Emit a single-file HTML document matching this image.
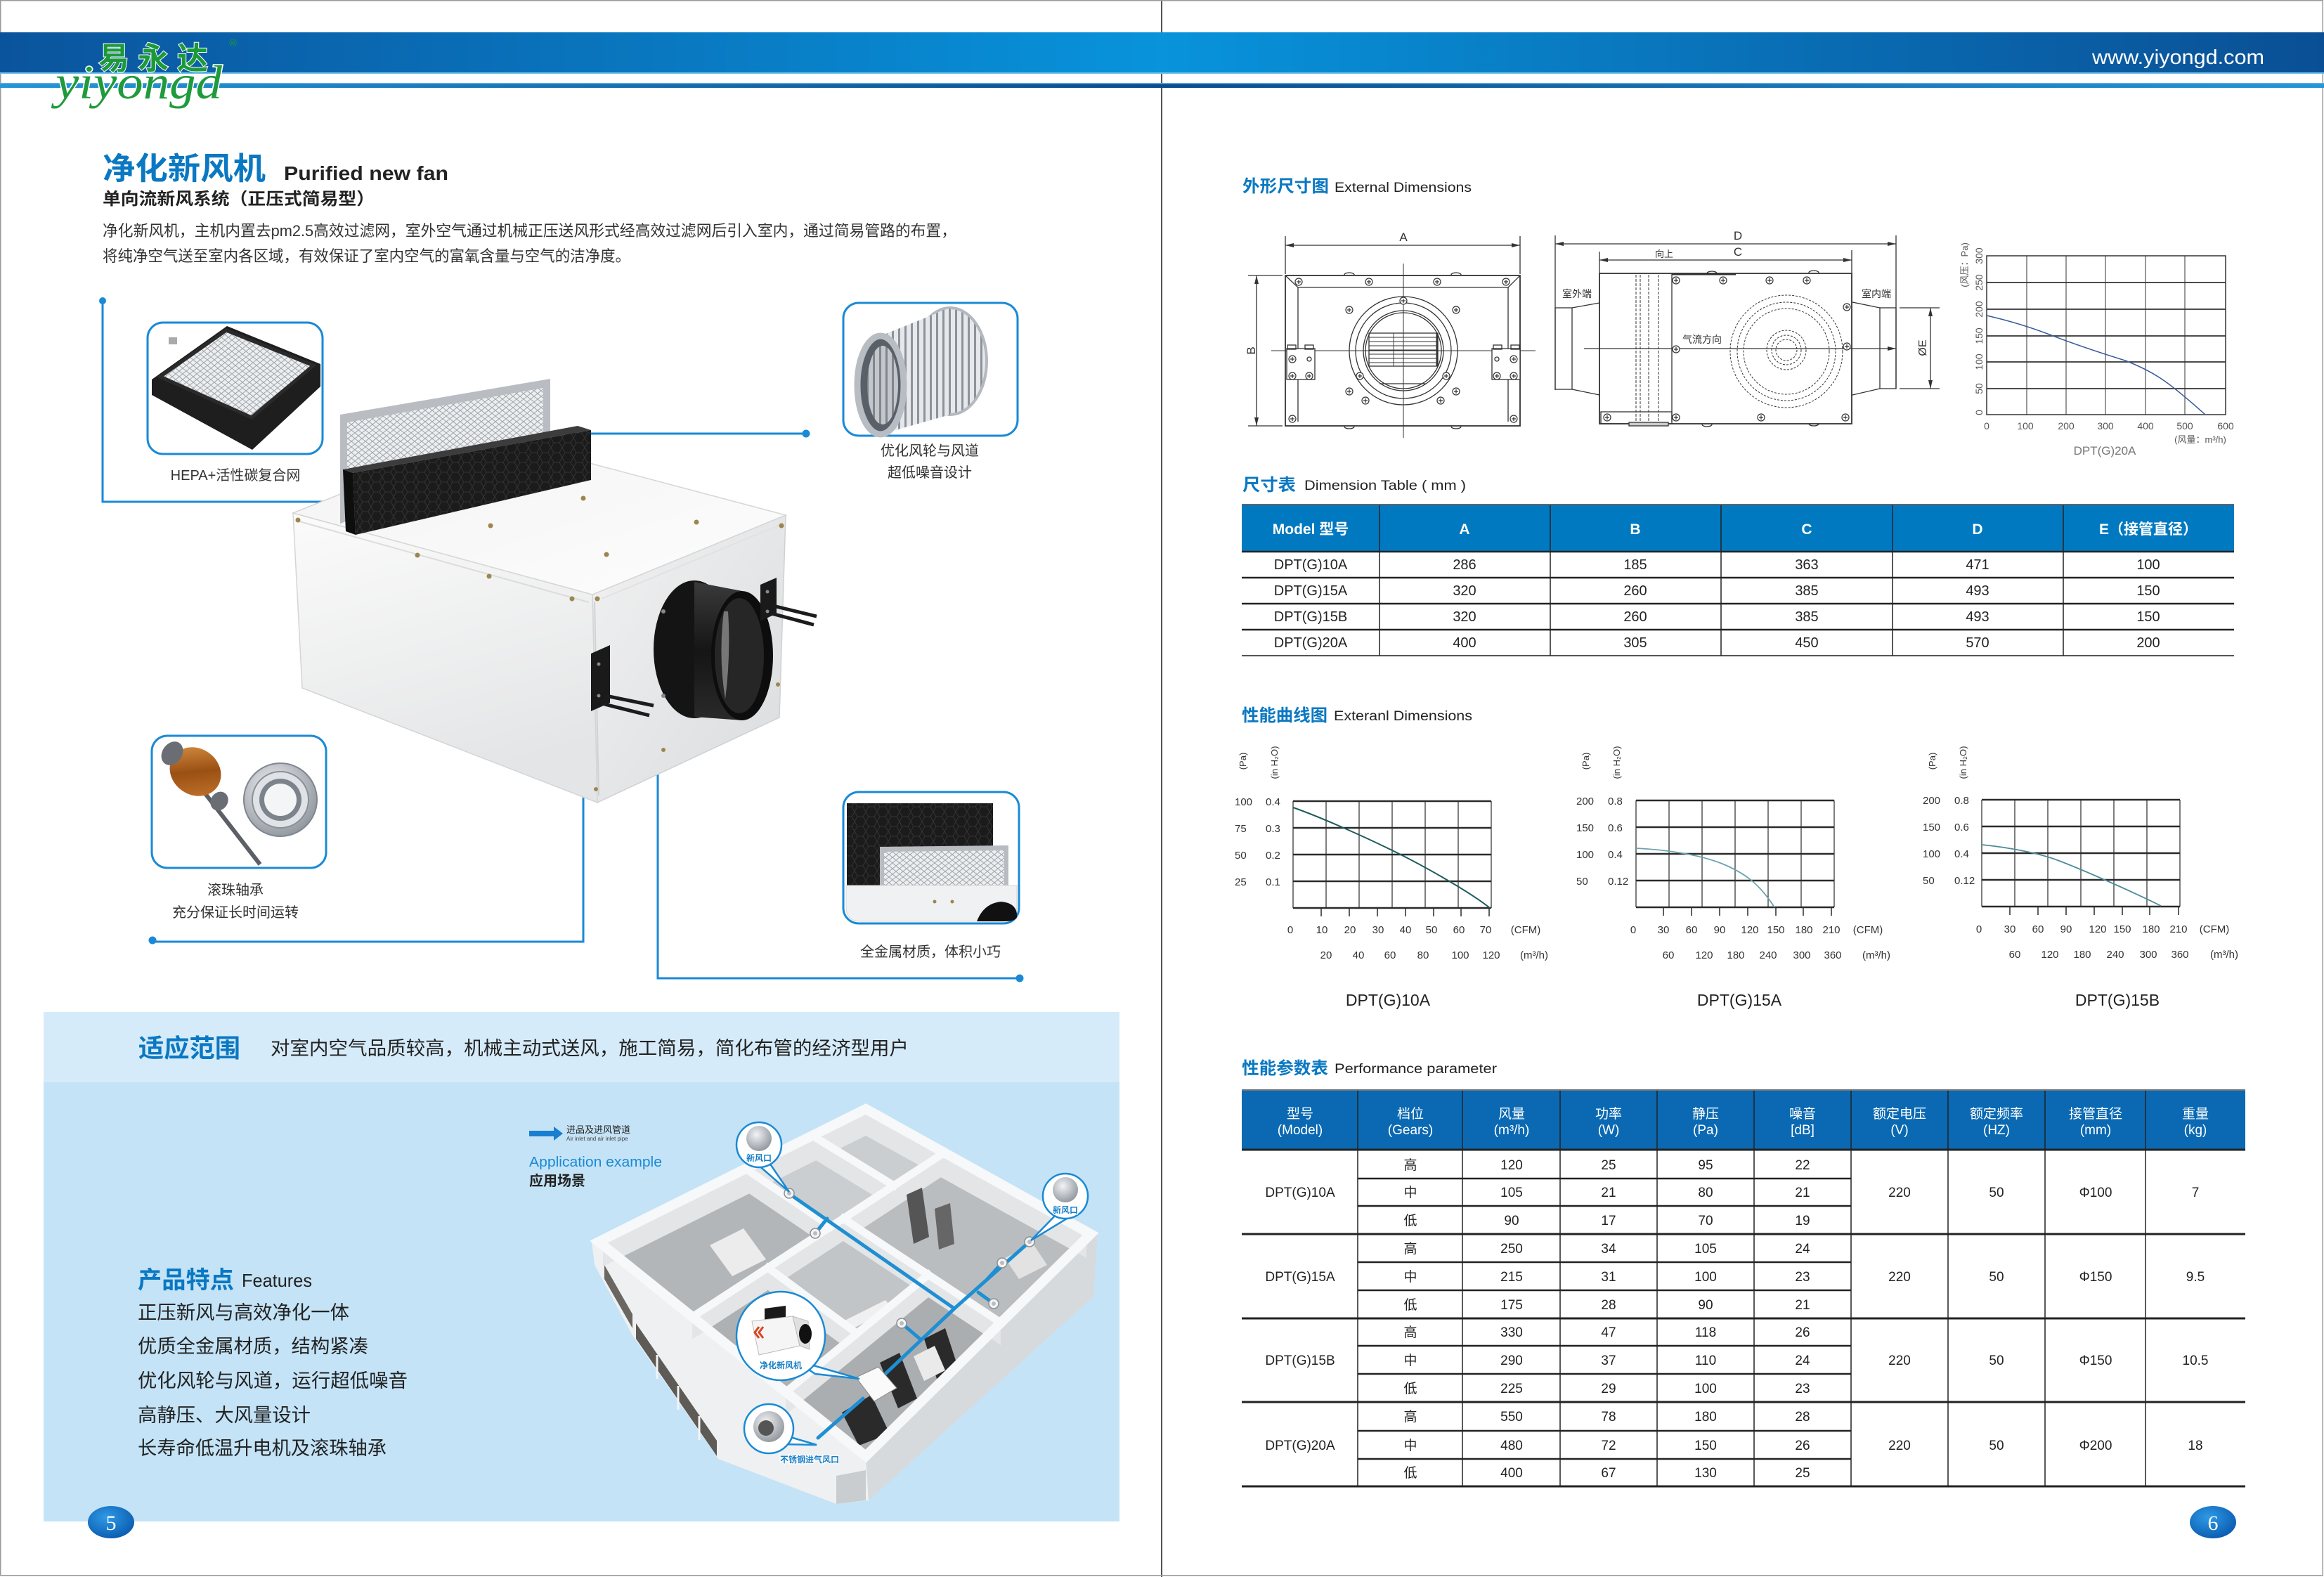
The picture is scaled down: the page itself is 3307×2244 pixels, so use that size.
<!DOCTYPE html>
<html><head><meta charset="utf-8">
<style>
html,body{margin:0;padding:0;background:#fff;}
body{width:3307px;height:2244px;overflow:hidden;}
svg{display:block;}
text{font-family:"Liberation Sans","Noto Sans CJK SC",sans-serif;}
.b{font-weight:bold;}
.bl{fill:#0a78c2;font-weight:bold;}
.dk{fill:#222;}
.m{text-anchor:middle;}
.lab{font-size:20px;fill:#333;text-anchor:middle;}
.th{font-size:21px;fill:#fff;font-weight:bold;text-anchor:middle;}
.td{font-size:20px;fill:#222;text-anchor:middle;}
.ph{font-size:19px;fill:#fff;text-anchor:middle;}
.pd{font-size:19px;fill:#222;text-anchor:middle;}
.ax{font-size:15px;fill:#333;}
.axm{font-size:15px;fill:#333;text-anchor:middle;}
.dr{stroke:#333;fill:none;stroke-width:1.3;}
.bub{font-size:12px;font-weight:bold;fill:#1a7fc8;stroke:#fff;stroke-width:2.5px;paint-order:stroke;text-anchor:middle;}
</style></head><body>
<svg width="3307" height="2244" viewBox="0 0 3307 2244" xmlns="http://www.w3.org/2000/svg">
<defs>
 <linearGradient id="band" x1="0" y1="0" x2="3307" y2="0" gradientUnits="userSpaceOnUse">
  <stop offset="0" stop-color="#0a549d"/><stop offset="0.5" stop-color="#0893db"/><stop offset="1" stop-color="#0a4f95"/>
 </linearGradient>
 <linearGradient id="stripe" x1="0" y1="0" x2="3307" y2="0" gradientUnits="userSpaceOnUse">
  <stop offset="0" stop-color="#2296d8"/><stop offset="0.5" stop-color="#0a4d8e"/><stop offset="1" stop-color="#2296d8"/>
 </linearGradient>
 <linearGradient id="lf" x1="0" y1="0" x2="0.3" y2="1">
  <stop offset="0" stop-color="#fbfbfb"/><stop offset="1" stop-color="#e4e5e6"/>
 </linearGradient>
 <linearGradient id="rf" x1="0" y1="0" x2="1" y2="1">
  <stop offset="0" stop-color="#f1f1f2"/><stop offset="1" stop-color="#dadcdd"/>
 </linearGradient>
 <linearGradient id="tf" x1="0" y1="0" x2="1" y2="1">
  <stop offset="0" stop-color="#f3f3f3"/><stop offset="1" stop-color="#fdfdfd"/>
 </linearGradient>
 <linearGradient id="duct" x1="0" y1="0" x2="0" y2="1">
  <stop offset="0" stop-color="#3a3a3a"/><stop offset="0.5" stop-color="#151515"/><stop offset="1" stop-color="#2a2a2a"/>
 </linearGradient>
 <radialGradient id="pn" cx="0.4" cy="0.35" r="0.7">
  <stop offset="0" stop-color="#2f9ae6"/><stop offset="1" stop-color="#0a5aae"/>
 </radialGradient>
 <radialGradient id="silver" cx="0.4" cy="0.35" r="0.7">
  <stop offset="0" stop-color="#f2f3f5"/><stop offset="1" stop-color="#8e949c"/>
 </radialGradient>
 <linearGradient id="copper" x1="0" y1="0" x2="1" y2="1">
  <stop offset="0" stop-color="#e09a4a"/><stop offset="0.5" stop-color="#9a5014"/><stop offset="1" stop-color="#c87a30"/>
 </linearGradient>
 <pattern id="hex" width="16" height="14" patternUnits="userSpaceOnUse">
  <rect width="16" height="14" fill="#1b1b1b"/>
  <path d="M4,0 L12,0 L16,7 L12,14 L4,14 L0,7 Z" fill="none" stroke="#333" stroke-width="1"/>
 </pattern>
 <pattern id="mesh" width="10" height="8" patternUnits="userSpaceOnUse">
  <rect width="10" height="8" fill="#eceef0"/>
  <path d="M0,4 L5,0 L10,4 L5,8 Z" fill="none" stroke="#9ea4aa" stroke-width="1"/>
 </pattern>
 <pattern id="blades" width="9" height="10" patternUnits="userSpaceOnUse">
  <rect width="9" height="10" fill="#e6e8eb"/>
  <rect width="3" height="10" fill="#8d939b"/>
 </pattern>
 <marker id="ar" markerWidth="12" markerHeight="6" refX="12" refY="3" orient="auto-start-reverse" markerUnits="userSpaceOnUse">
  <path d="M0,0 L12,3 L0,6 Z" fill="#333"/>
 </marker>
 <g id="sc"><circle r="5" fill="#fff" stroke="#333" stroke-width="1.2"/><path d="M-3,0H3M0,-3V3" stroke="#333" stroke-width="1.2"/></g>
 <g id="df"><circle r="7" fill="#f4f4f4" stroke="#8a9096" stroke-width="1.5"/><circle r="3" fill="#b8bcc0"/></g>
</defs>

<!-- page frame -->
<rect x="0" y="0" width="3307" height="2244" fill="#fff"/>
<line x1="1653" y1="0" x2="1653" y2="2244" stroke="#2a2a2a" stroke-width="1.6"/>
<rect x="0.75" y="0.75" width="3304.5" height="2241" fill="none" stroke="#9a9a9a" stroke-width="1.5"/>

<!-- header band -->
<rect x="0" y="46" width="3307" height="58" fill="url(#band)"/>
<rect x="0" y="103" width="3307" height="2" fill="#6cc0ec"/>
<rect x="0" y="118" width="3307" height="1.5" fill="#63ace0"/>
<rect x="0" y="119.5" width="3307" height="5.5" fill="url(#stripe)"/>

<!-- logo -->
<text x="140" y="98" font-size="44" class="b" fill="#1c9a3a" stroke="#fff" stroke-width="2" paint-order="stroke" letter-spacing="12">易永达</text>
<text x="79" y="140" font-size="68" fill="#1f9a3c" stroke="#fff" stroke-width="3" paint-order="stroke" textLength="237" lengthAdjust="spacingAndGlyphs" style="font-family:'Liberation Serif',serif;font-style:italic;">yiyongd</text>
<text x="326" y="66" font-size="15" fill="#1c9a3a">®</text>
<text x="2977" y="91" font-size="29" fill="#fff" textLength="245" lengthAdjust="spacingAndGlyphs">www.yiyongd.com</text>

<!-- LEFT PAGE title -->
<text x="146" y="255" font-size="44" class="bl" textLength="232" lengthAdjust="spacingAndGlyphs">净化新风机</text>
<text x="404" y="256" font-size="28" class="b dk" textLength="234" lengthAdjust="spacingAndGlyphs">Purified new fan</text>
<text x="146" y="291" font-size="24" class="b dk" textLength="387" lengthAdjust="spacingAndGlyphs">单向流新风系统（正压式简易型）</text>
<text x="146" y="336" font-size="22" fill="#333" textLength="1215" lengthAdjust="spacingAndGlyphs">净化新风机，主机内置去pm2.5高效过滤网，室外空气通过机械正压送风形式经高效过滤网后引入室内，通过简易管路的布置，</text>
<text x="146" y="372" font-size="22" fill="#333" textLength="751" lengthAdjust="spacingAndGlyphs">将纯净空气送至室内各区域，有效保证了室内空气的富氧含量与空气的洁净度。</text>

<!-- callout lines -->
<g stroke="#1a8ad6" stroke-width="3" fill="none">
 <path d="M146,427 V714 H597"/>
 <path d="M689,617 H1147"/>
 <path d="M830,1038 V1340 H217"/>
 <path d="M936,1043 V1392 H1451"/>
</g>
<g fill="#1a8ad6">
 <circle cx="146" cy="428" r="5"/><circle cx="1147" cy="617" r="5.5"/><circle cx="217" cy="1338" r="5.5"/><circle cx="1451" cy="1392" r="5.5"/>
</g>

<!-- product box -->
<polygon points="843,846 1118,733 1109,1021 850,1142" fill="url(#rf)" stroke="#cfd1d3" stroke-width="1.5"/>
<polygon points="417,730 843,846 850,1142 430,979" fill="url(#lf)" stroke="#d3d5d7" stroke-width="1.5"/>
<polygon points="417,730 692,620 1118,733 843,846" fill="url(#tf)" stroke="#d6d6d6" stroke-width="1.5"/>
<line x1="426" y1="742" x2="838" y2="857" stroke="#dcdcdc" stroke-width="2"/>
<line x1="846" y1="856" x2="852" y2="1132" stroke="#d0d2d4" stroke-width="2"/>
<line x1="856" y1="852" x2="1110" y2="747" stroke="#e2e2e2" stroke-width="2"/>
<polygon points="484,590 783,539 783,640 484,745" fill="#b9bdc1"/>
<polygon points="494,601 773,552 773,632 494,737" fill="url(#mesh)"/>
<polygon points="488,668 822,606 841,612 502,673" fill="#3c3c3c"/>
<polygon points="502,673 841,612 841,683 506,761" fill="url(#hex)"/>
<polygon points="488,668 502,673 506,761 492,756" fill="#0e0e0e"/>
<g fill="#9c8650">
 <circle cx="424" cy="740" r="3.5"/><circle cx="594" cy="790" r="3.5"/><circle cx="696" cy="820" r="3.5"/><circle cx="814" cy="852" r="3.5"/><circle cx="850" cy="852" r="3.5"/>
 <circle cx="1112" cy="748" r="3.5"/><circle cx="830" cy="709" r="3.5"/><circle cx="698" cy="748" r="3.5"/><circle cx="863" cy="789" r="3.5"/><circle cx="991" cy="743" r="3.5"/>
 <circle cx="848" cy="1123" r="3"/><circle cx="944" cy="1067" r="3"/><circle cx="1107" cy="974" r="3"/>
</g>
<!-- duct -->
<ellipse cx="988" cy="924" rx="58" ry="98" fill="#141414"/>
<polygon points="988,828 1056,841 1056,1025 988,1020" fill="url(#duct)"/>
<ellipse cx="1056" cy="933" rx="44" ry="92" fill="#0d0d0d"/>
<ellipse cx="1052" cy="933" rx="35" ry="82" fill="#262626"/>
<path d="M1030,870 Q1022,933 1032,995 Q1040,933 1036,870 Z" fill="#9a9a9a" opacity="0.7"/>
<circle cx="944" cy="870" r="3" fill="#888"/><circle cx="944" cy="990" r="3" fill="#888"/>
<!-- brackets -->
<polygon points="841,930 868,918 868,1000 841,1012" fill="#1a1a1a"/>
<path d="M862,990 L930,1004 M860,1002 L924,1018" stroke="#1c1c1c" stroke-width="5" fill="none"/>
<circle cx="852" cy="945" r="2.5" fill="#888"/><circle cx="852" cy="990" r="2.5" fill="#888"/>
<polygon points="1082,832 1105,822 1105,873 1082,884" fill="#1a1a1a"/>
<path d="M1100,862 L1162,877 M1098,873 L1158,889" stroke="#1c1c1c" stroke-width="5" fill="none"/>
<circle cx="1092" cy="842" r="2.5" fill="#888"/><circle cx="1092" cy="870" r="2.5" fill="#888"/>

<!-- HEPA box -->
<rect x="210" y="459" width="249" height="187" rx="22" fill="#fff" stroke="#1a8ad6" stroke-width="3"/>
<polygon points="216,540 323,464 456,518 456,550 359,640 216,562" fill="#1e1e1e"/>
<polygon points="228,536 322,470 446,520 358,594" fill="url(#mesh)" stroke="#2a2a2a" stroke-width="5"/>
<rect x="240" y="480" width="12" height="10" fill="#aaa"/>
<text x="335" y="683" class="lab">HEPA+活性碳复合网</text>

<!-- Fan wheel box -->
<rect x="1200" y="431" width="248" height="189" rx="22" fill="#fff" stroke="#1a8ad6" stroke-width="3"/>
<ellipse cx="1352" cy="514" rx="52" ry="76" fill="url(#blades)" stroke="#b4b9c0" stroke-width="4"/>
<polygon points="1253,478 1352,438 1352,590 1253,618" fill="url(#blades)"/>
<ellipse cx="1253" cy="548" rx="33" ry="70" fill="#5a6068" stroke="#b8bdc4" stroke-width="9"/>
<ellipse cx="1256" cy="548" rx="22" ry="56" fill="url(#blades)" opacity="0.75"/>
<text x="1323" y="648" class="lab">优化风轮与风道</text>
<text x="1323" y="679" class="lab">超低噪音设计</text>

<!-- Bearing box -->
<rect x="216" y="1047" width="248" height="188" rx="22" fill="#fff" stroke="#1a8ad6" stroke-width="3"/>
<line x1="250" y1="1075" x2="370" y2="1230" stroke="#5c6066" stroke-width="6"/>
<ellipse cx="278" cy="1098" rx="38" ry="33" fill="url(#copper)" transform="rotate(35 278 1098)"/>
<ellipse cx="245" cy="1072" rx="14" ry="18" fill="#6a6e74" transform="rotate(35 245 1072)"/>
<ellipse cx="312" cy="1140" rx="12" ry="14" fill="#6a6e74" transform="rotate(35 312 1140)"/>
<circle cx="399" cy="1138" r="52" fill="url(#silver)" stroke="#80868e" stroke-width="2"/>
<circle cx="399" cy="1138" r="40" fill="#dfe2e6" stroke="#8a9098" stroke-width="2"/>
<circle cx="399" cy="1138" r="30" fill="#7d838b"/>
<circle cx="399" cy="1138" r="23" fill="#f4f5f6"/>
<text x="335" y="1273" class="lab">滚珠轴承</text>
<text x="335" y="1305" class="lab">充分保证长时间运转</text>

<!-- Filter box -->
<rect x="1200" y="1127" width="250" height="187" rx="22" fill="#fff" stroke="#1a8ad6" stroke-width="3"/>
<polygon points="1205,1143 1413,1143 1413,1262 1205,1272" fill="url(#hex)"/>
<polygon points="1252,1205 1435,1203 1435,1262 1252,1268" fill="#b8bcc0"/>
<polygon points="1258,1212 1429,1210 1429,1262 1258,1266" fill="url(#mesh)"/>
<path d="M1204,1260 H1447 V1290 Q1447,1311 1426,1311 H1224 Q1204,1311 1204,1290 Z" fill="#f0f1f2" stroke="#d8d8d8"/>
<path d="M1390,1311 Q1400,1285 1425,1283 Q1445,1285 1447,1300 L1447,1305 Q1445,1311 1430,1311 Z" fill="#111"/>
<circle cx="1330" cy="1283" r="2.5" fill="#9c8650"/><circle cx="1355" cy="1283" r="2.5" fill="#9c8650"/>
<text x="1324" y="1361" class="lab">全金属材质，体积小巧</text>

<!-- Light blue panel -->
<rect x="62" y="1440" width="1531" height="100" fill="#d6ebf9"/>
<rect x="62" y="1540" width="1531" height="625" fill="#c4e3f7"/>
<text x="197" y="1504" font-size="36" class="bl" textLength="145" lengthAdjust="spacingAndGlyphs">适应范围</text>
<text x="385" y="1501" font-size="27" fill="#222" textLength="908" lengthAdjust="spacingAndGlyphs">对室内空气品质较高，机械主动式送风，施工简易，简化布管的经济型用户</text>

<text x="196" y="1833" font-size="34" class="bl" textLength="137" lengthAdjust="spacingAndGlyphs">产品特点</text>
<text x="344" y="1831" font-size="26" fill="#222" textLength="100" lengthAdjust="spacingAndGlyphs">Features</text>
<text x="196" y="1877" font-size="27" fill="#222" textLength="301" lengthAdjust="spacingAndGlyphs">正压新风与高效净化一体</text>
<text x="196" y="1925" font-size="27" fill="#222" textLength="328" lengthAdjust="spacingAndGlyphs">优质全金属材质，结构紧凑</text>
<text x="196" y="1974" font-size="27" fill="#222" textLength="384" lengthAdjust="spacingAndGlyphs">优化风轮与风道，运行超低噪音</text>
<text x="196" y="2023" font-size="27" fill="#222" textLength="246" lengthAdjust="spacingAndGlyphs">高静压、大风量设计</text>
<text x="196" y="2070" font-size="27" fill="#222" textLength="354" lengthAdjust="spacingAndGlyphs">长寿命低温升电机及滚珠轴承</text>

<!-- legend -->
<polygon points="753,1609 788,1609 788,1603 801,1613 788,1623 788,1617 753,1617" fill="#1a7fd0"/>
<text x="806" y="1612" font-size="13" fill="#222">进品及进风管道</text>
<text x="806" y="1623" font-size="8" fill="#444">Air inlet and air inlet pipe</text>
<text x="753" y="1660" font-size="20" fill="#1a8ad4" textLength="189" lengthAdjust="spacingAndGlyphs">Application example</text>
<text x="753" y="1687" font-size="20" class="b dk">应用场景</text>

<!-- house -->
<g>
 <polygon points="1562,1755 1232,2076 1236,2135 1556,1845" fill="#d7dadd"/>
 <polygon points="842,1767 1232,2076 1236,2135 1190,2140 1022,2076 900,1900 846,1800" fill="#eef0f1"/>
 <polygon points="905,1905 1020,2072 1020,2050 905,1883" fill="#5e5a56"/>
 <polygon points="860,1800 900,1870 900,1890 860,1820" fill="#6a6661"/>
 <g stroke="#f4f4f4" stroke-width="3"><line x1="935" y1="1928" x2="935" y2="1962"/><line x1="965" y1="1972" x2="965" y2="2006"/><line x1="995" y1="2015" x2="995" y2="2049"/></g>
 <polygon points="1190,2140 1232,2135 1232,2092 1190,2100" fill="#c9cdd0"/>
 <polygon points="852,1767 1232,1578 1552,1756 1232,2072" fill="#bcbfc2"/>
 <polygon points="852,1767 1061,1663 1182,1745 985,1874" fill="#b3b6b9"/>
 <polygon points="1061,1663 1232,1578 1344,1640 1182,1745" fill="#cbced1"/>
 <polygon points="985,1874 1093,1804 1219,1897 1118,1981" fill="#aeb1b4"/>
 <polygon points="1093,1804 1200,1734 1321,1814 1219,1897" fill="#c2c5c8"/>
 <polygon points="1118,1981 1321,1814 1424,1882 1232,2072" fill="#abaeb1"/>
 <polygon points="1200,1734 1344,1640 1552,1756 1424,1882" fill="#babdc0"/>
 <!-- inner wall faces -->
 <g fill="#e3e5e7">
  <polygon points="858,1770 1232,1584 1232,1616 858,1802"/>
  <polygon points="1232,1584 1546,1758 1546,1790 1232,1616"/>
  <polygon points="985,1874 1344,1640 1344,1672 985,1906"/>
  <polygon points="1061,1663 1182,1745 1182,1777 1061,1695"/>
  <polygon points="1156,1616 1272,1687 1272,1719 1156,1648"/>
  <polygon points="1200,1734 1424,1882 1424,1914 1200,1766"/>
  <polygon points="1118,1981 1321,1814 1321,1846 1118,2013"/>
  <polygon points="1093,1804 1219,1897 1219,1929 1093,1836"/>
  <polygon points="1272,1687 1200,1734 1200,1766 1272,1719"/>
 </g>
 <!-- furniture -->
 <polygon points="1010,1772 1058,1748 1090,1792 1042,1816" fill="#ececec"/>
 <polygon points="1100,1860 1140,1840 1165,1872 1125,1892" fill="#e8e8e8"/>
 <polygon points="1290,1700 1312,1690 1322,1760 1300,1770" fill="#555"/>
 <polygon points="1330,1720 1352,1712 1358,1770 1336,1778" fill="#666"/>
 <polygon points="1252,1939 1280,1925 1305,1990 1278,2004" fill="#2a2a2a"/>
 <polygon points="1198,2010 1240,1985 1266,2040 1222,2057" fill="#2a2a2a"/>
 <polygon points="1315,1905 1345,1890 1363,1945 1333,1962" fill="#2a2a2a"/>
 <polygon points="1300,1930 1330,1915 1345,1950 1315,1965" fill="#eaeaea"/>
 <polygon points="1200,1880 1260,1850 1270,1862 1210,1892" fill="#f0f0f0"/>
 <polygon points="1430,1790 1470,1770 1490,1800 1450,1820" fill="#e2e2e2"/>
 <!-- walls -->
 <g stroke="#f7f8f9" stroke-width="11" stroke-linecap="square" fill="none">
  <polygon points="852,1767 1232,1578 1552,1756 1232,2072" stroke-width="14"/>
  <line x1="985" y1="1874" x2="1344" y2="1640"/>
  <line x1="1061" y1="1663" x2="1182" y2="1745"/>
  <line x1="1156" y1="1616" x2="1272" y2="1687"/>
  <line x1="1200" y1="1734" x2="1424" y2="1882"/>
  <line x1="1118" y1="1981" x2="1321" y2="1814"/>
  <line x1="1093" y1="1804" x2="1219" y2="1897"/>
  <line x1="1272" y1="1687" x2="1200" y2="1734"/>
 </g>
 <!-- ducts -->
 <g stroke="#1e8fd2" stroke-width="5" fill="none" stroke-linecap="round">
  <path d="M1125,1700 L1358,1862 L1465,1767"/>
  <path d="M1358,1862 L1246,1968"/>
  <path d="M1228,1990 L1164,2046"/>
  <path d="M1177,1734 L1160,1755"/>
  <path d="M1405,1820 L1426,1797"/>
  <path d="M1392,1839 L1414,1855"/>
  <path d="M1310,1906 L1283,1883"/>
 </g>
 <polygon points="1218,1960 1250,1945 1276,1975 1244,1994" fill="#fafafa" stroke="#888" stroke-width="1"/>
 <use href="#df" x="1123" y="1698"/><use href="#df" x="1160" y="1755"/><use href="#df" x="1426" y="1797"/>
 <use href="#df" x="1465" y="1767"/><use href="#df" x="1414" y="1855"/><use href="#df" x="1283" y="1883"/>
 <!-- bubbles -->
 <g fill="#fff" stroke="#1a8ad4" stroke-width="2.5">
  <polygon points="1070,1650 1095,1655 1123,1696"/>
  <circle cx="1080" cy="1629" r="32"/>
  <polygon points="1505,1726 1528,1728 1467,1765"/>
  <circle cx="1516" cy="1702" r="32"/>
  <polygon points="1130,1935 1160,1955 1223,1962"/>
  <circle cx="1111" cy="1901" r="63"/>
  <polygon points="1110,2055 1125,2045 1162,2056"/>
  <circle cx="1094" cy="2033" r="35"/>
 </g>
 <circle cx="1080" cy="1620" r="18" fill="url(#silver)"/>
 <circle cx="1516" cy="1693" r="18" fill="url(#silver)"/>
 <circle cx="1094" cy="2030" r="22" fill="url(#silver)"/>
 <circle cx="1090" cy="2032" r="11" fill="#555"/>
 <!-- mini fan in bubble -->
 <polygon points="1088,1862 1118,1858 1118,1880 1088,1884" fill="#1a1a1a"/>
 <polygon points="1070,1880 1128,1873 1138,1915 1080,1928" fill="#f5f5f5" stroke="#bbb"/>
 <polygon points="1128,1873 1150,1880 1152,1920 1138,1915" fill="#e0e0e0" stroke="#bbb"/>
 <ellipse cx="1146" cy="1898" rx="9" ry="14" fill="#111"/>
 <path d="M1080,1888 L1074,1896 L1080,1904 M1086,1888 L1080,1896 L1086,1904" stroke="#d42" stroke-width="3" fill="none"/>
 <text x="1080" y="1652" class="bub">新风口</text>
 <text x="1516" y="1726" class="bub">新风口</text>
 <text x="1111" y="1947" class="bub" font-size="13">净化新风机</text>
 <text x="1152" y="2081" class="bub">不锈钢进气风口</text>
</g>

<!-- page numbers -->
<ellipse cx="158" cy="2166" rx="33" ry="23" fill="url(#pn)"/>
<text x="158" y="2177" font-size="30" fill="#fff" text-anchor="middle" style="font-family:'Liberation Serif',serif;">5</text>
<ellipse cx="3149" cy="2166" rx="33" ry="23" fill="url(#pn)"/>
<text x="3149" y="2177" font-size="30" fill="#fff" text-anchor="middle" style="font-family:'Liberation Serif',serif;">6</text>

<!-- RIGHT PAGE -->
<text x="1768" y="273" font-size="24" class="bl" textLength="123" lengthAdjust="spacingAndGlyphs">外形尺寸图</text>
<text x="1899" y="273" font-size="19" fill="#222" textLength="195" lengthAdjust="spacingAndGlyphs">External Dimensions</text>

<!-- front view drawing -->
<g class="dr">
 <line x1="1829" y1="336" x2="1829" y2="390"/><line x1="2163" y1="336" x2="2163" y2="390"/>
 <line x1="1829" y1="349" x2="2163" y2="349" marker-start="url(#ar)" marker-end="url(#ar)"/>
 <line x1="1776" y1="392" x2="1825" y2="392"/><line x1="1776" y1="606" x2="1825" y2="606"/>
 <line x1="1788" y1="392" x2="1788" y2="606" marker-start="url(#ar)" marker-end="url(#ar)"/>
 <rect x="1829" y="392" width="334" height="214" stroke-width="1.8"/>
 <polyline points="1829,392 1847,409 2146,409 2163,392"/>
 <line x1="1847" y1="409" x2="1847" y2="600"/><line x1="2146" y1="409" x2="2146" y2="600"/>
 <circle cx="1997" cy="499" r="77"/><circle cx="1997" cy="499" r="68"/><circle cx="1997" cy="499" r="57"/><circle cx="1997" cy="499" r="54"/>
 <rect x="1948" y="474" width="98" height="47"/>
 <path d="M1948,480H2045M1948,486H2045M1948,492H2045M1948,498H2045M1948,504H2045M1948,510H2045M1948,516H2045M1983,474V521" stroke-width="0.9"/>
 <line x1="2045" y1="474" x2="2045" y2="521" stroke-width="3"/>
 <line x1="1963" y1="546" x2="2029" y2="546"/>
 <line x1="1997" y1="375" x2="1997" y2="623" stroke-width="1"/>
 <line x1="1809" y1="499" x2="2185" y2="499" stroke-width="1"/>
 <rect x="1831" y="496" width="40" height="44" fill="#fff"/><rect x="2123" y="496" width="40" height="44" fill="#fff"/>
 <rect x="1832" y="491" width="12" height="6"/><rect x="1857" y="491" width="12" height="6"/>
 <rect x="2125" y="491" width="12" height="6"/><rect x="2150" y="491" width="12" height="6"/>
 <path d="M1913,391 A7,3 0 0 1 1927,391 M2065,391 A7,3 0 0 1 2079,391 M1913,607 A7,3 0 0 0 1927,607 M2065,607 A7,3 0 0 0 2079,607"/>
 <circle cx="1863" cy="511" r="3"/><circle cx="2130" cy="511" r="3"/>
</g>
<text x="1997" y="343" font-size="17" fill="#333" text-anchor="middle">A</text>
<text transform="translate(1786,499) rotate(-90)" font-size="17" fill="#333" text-anchor="middle">B</text>
<g>
 <use href="#sc" x="1848" y="401"/><use href="#sc" x="1948" y="401"/><use href="#sc" x="2045" y="401"/><use href="#sc" x="2143" y="401"/>
 <use href="#sc" x="1997" y="428"/><use href="#sc" x="1920" y="441"/><use href="#sc" x="2072" y="441"/>
 <use href="#sc" x="1935" y="535"/><use href="#sc" x="2058" y="535"/><use href="#sc" x="1920" y="557"/><use href="#sc" x="2072" y="557"/>
 <use href="#sc" x="1943" y="570"/><use href="#sc" x="2050" y="570"/>
 <use href="#sc" x="1839" y="511"/><use href="#sc" x="1839" y="535"/><use href="#sc" x="1863" y="535"/>
 <use href="#sc" x="2154" y="511"/><use href="#sc" x="2130" y="535"/><use href="#sc" x="2154" y="535"/>
 <use href="#sc" x="1839" y="596"/><use href="#sc" x="2154" y="596"/>
</g>

<!-- side view drawing -->
<g class="dr">
 <line x1="2213" y1="335" x2="2213" y2="555"/><line x1="2698" y1="335" x2="2698" y2="553"/>
 <line x1="2213" y1="347" x2="2698" y2="347" marker-start="url(#ar)" marker-end="url(#ar)"/>
 <line x1="2276" y1="358" x2="2276" y2="389"/><line x1="2635" y1="356" x2="2635" y2="389"/>
 <line x1="2276" y1="370" x2="2635" y2="370" marker-start="url(#ar)" marker-end="url(#ar)"/>
 <rect x="2276" y="389" width="359" height="214" stroke-width="1.8"/>
 <line x1="2379" y1="390" x2="2379" y2="600"/>
 <line x1="2379" y1="390" x2="2470" y2="390" stroke-width="3"/>
 <rect x="2278" y="586" width="101" height="17"/>
 <path d="M2328,391V605M2334,391V605M2346,391V605M2360,391V605" stroke-dasharray="4 2" stroke-width="1"/>
 <rect x="2318" y="601" width="56" height="5" fill="#ccc"/>
 <rect x="2213" y="438" width="24" height="116"/>
 <path d="M2237,438 L2276,431 M2237,554 L2276,562"/>
 <rect x="2675" y="438" width="23" height="115"/>
 <path d="M2636,430 L2675,438 M2636,562 L2675,553"/>
 <line x1="2703" y1="438" x2="2760" y2="438"/><line x1="2703" y1="553" x2="2760" y2="553"/>
 <line x1="2747" y1="438" x2="2747" y2="553" marker-start="url(#ar)" marker-end="url(#ar)"/>
 <line x1="2254" y1="496" x2="2698" y2="496" marker-end="url(#ar)"/>
 <g stroke-dasharray="3 2" stroke-width="1">
  <circle cx="2542" cy="500" r="80"/><circle cx="2542" cy="500" r="70"/><circle cx="2542" cy="500" r="61"/>
  <circle cx="2542" cy="498" r="28"/><circle cx="2542" cy="498" r="21"/><circle cx="2542" cy="498" r="15"/>
 </g>
 <path d="M2429,389 A7,3 0 0 1 2443,389 M2574,388 A7,3 0 0 1 2588,388 M2422,604 A7,3 0 0 0 2436,604 M2574,603 A7,3 0 0 0 2588,603"/>
</g>
<g>
 <use href="#sc" x="2385" y="399"/><use href="#sc" x="2452" y="399"/><use href="#sc" x="2518" y="399"/><use href="#sc" x="2571" y="399"/>
 <use href="#sc" x="2628" y="437"/><use href="#sc" x="2385" y="497"/><use href="#sc" x="2628" y="493"/>
 <use href="#sc" x="2385" y="594"/><use href="#sc" x="2506" y="594"/><use href="#sc" x="2626" y="594"/><use href="#sc" x="2287" y="594"/>
</g>
<text x="2473" y="341" font-size="17" fill="#333" text-anchor="middle">D</text>
<text x="2473" y="364" font-size="17" fill="#333" text-anchor="middle">C</text>
<text x="2368" y="366" font-size="13" fill="#333" text-anchor="middle">向上</text>
<text x="2244" y="423" font-size="14" fill="#333" text-anchor="middle">室外端</text>
<text x="2670" y="423" font-size="14" fill="#333" text-anchor="middle">室内端</text>
<text x="2422" y="488" font-size="14" fill="#333" text-anchor="middle">气流方向</text>
<text transform="translate(2741,495) rotate(-90)" font-size="16" fill="#333" text-anchor="middle">ØE</text>

<!-- small chart 20A -->
<g stroke="#333" fill="none">
 <rect x="2827" y="364" width="340" height="226" stroke-width="1.5"/>
 <path d="M2884,364V590M2940,364V590M2996,364V590M3053,364V590M3109,364V590" stroke-width="1"/>
 <path d="M2827,402H3167M2827,440H3167M2827,478H3167M2827,515H3167M2827,553H3167" stroke-width="1.8"/>
 <path d="M2827,449 Q2875,460 2919,477 T3024,513 Q3055,525 3077,540 T3138,590" stroke="#3a5a9a" stroke-width="1.5"/>
</g>
<g font-size="14" fill="#555" text-anchor="middle">
 <text transform="translate(2821,587) rotate(-90)">0</text>
 <text transform="translate(2821,553) rotate(-90)">50</text>
 <text transform="translate(2821,515) rotate(-90)">100</text>
 <text transform="translate(2821,478) rotate(-90)">150</text>
 <text transform="translate(2821,440) rotate(-90)">200</text>
 <text transform="translate(2821,402) rotate(-90)">250</text>
 <text transform="translate(2821,364) rotate(-90)">300</text>
 <text transform="translate(2800,377) rotate(-90)" font-size="13">(风压：Pa)</text>
 <text x="2827" y="611">0</text><text x="2882" y="611">100</text><text x="2940" y="611">200</text><text x="2996" y="611">300</text>
 <text x="3053" y="611">400</text><text x="3109" y="611">500</text><text x="3167" y="611">600</text>
 <text x="3131" y="630" font-size="13">(风量：m³/h)</text>
 <text x="2995" y="647" font-size="17" fill="#777">DPT(G)20A</text>
</g>

<!-- Dimension table -->
<text x="1768" y="698" font-size="24" class="bl" textLength="76" lengthAdjust="spacingAndGlyphs">尺寸表</text>
<text x="1856" y="697" font-size="19" fill="#222" textLength="230" lengthAdjust="spacingAndGlyphs">Dimension Table ( mm )</text>
<rect x="1767" y="719" width="1412" height="66" fill="#0079c1"/>
<g stroke="#222">
 <line x1="1767" y1="718" x2="3179" y2="718" stroke="#666" stroke-width="2"/>
 <line x1="1767" y1="785" x2="3179" y2="785" stroke-width="2.5"/>
 <line x1="1767" y1="822" x2="3179" y2="822" stroke-width="2.5"/>
 <line x1="1767" y1="859" x2="3179" y2="859" stroke-width="2.5"/>
 <line x1="1767" y1="896" x2="3179" y2="896" stroke-width="2.5"/>
 <line x1="1767" y1="933" x2="3179" y2="933" stroke="#555" stroke-width="2"/>
 <path d="M1963,719V933M2206,719V933M2449,719V933M2693,719V933M2936,719V933" stroke-width="1.5"/>
</g>
<text x="1865" y="760" class="th">Model 型号</text>
<text x="2084" y="760" class="th">A</text><text x="2327" y="760" class="th">B</text><text x="2571" y="760" class="th">C</text>
<text x="2814" y="760" class="th">D</text><text x="3057" y="760" class="th">E（接管直径）</text>
<g>
 <text x="1865" y="810" class="td">DPT(G)10A</text><text x="2084" y="810" class="td">286</text><text x="2327" y="810" class="td">185</text><text x="2571" y="810" class="td">363</text><text x="2814" y="810" class="td">471</text><text x="3057" y="810" class="td">100</text>
 <text x="1865" y="847" class="td">DPT(G)15A</text><text x="2084" y="847" class="td">320</text><text x="2327" y="847" class="td">260</text><text x="2571" y="847" class="td">385</text><text x="2814" y="847" class="td">493</text><text x="3057" y="847" class="td">150</text>
 <text x="1865" y="884" class="td">DPT(G)15B</text><text x="2084" y="884" class="td">320</text><text x="2327" y="884" class="td">260</text><text x="2571" y="884" class="td">385</text><text x="2814" y="884" class="td">493</text><text x="3057" y="884" class="td">150</text>
 <text x="1865" y="921" class="td">DPT(G)20A</text><text x="2084" y="921" class="td">400</text><text x="2327" y="921" class="td">305</text><text x="2571" y="921" class="td">450</text><text x="2814" y="921" class="td">570</text><text x="3057" y="921" class="td">200</text>
</g>

<!-- Performance curves -->
<text x="1767" y="1026" font-size="24" class="bl" textLength="122" lengthAdjust="spacingAndGlyphs">性能曲线图</text>
<text x="1898" y="1025" font-size="19" fill="#222" textLength="197" lengthAdjust="spacingAndGlyphs">Exteranl Dimensions</text>

<!-- chart 1 -->
<g stroke="#2a2a2a" fill="none">
 <path d="M1840,1140V1292M1887,1140V1292M1934,1140V1292M1981,1140V1292M2028,1140V1292M2075,1140V1292M2122,1140V1292" stroke-width="1.2"/>
 <path d="M1840,1140H2122M1840,1178H2122M1840,1216H2122M1840,1254H2122M1840,1292H2122" stroke-width="2.5"/>
 <path d="M1880,1292V1304M1920,1292V1304M1960,1292V1304M2000,1292V1304M2040,1292V1304M2079,1292V1304M2119,1292V1304" stroke-width="1.5"/>
 <path d="M1840,1149 C1880,1163 1940,1190 1981,1210 S2090,1268 2120,1292" stroke="#1d5c5c" stroke-width="2"/>
</g>
<g class="ax">
 <text x="1757" y="1146">100</text><text x="1801" y="1146">0.4</text>
 <text x="1757" y="1184">75</text><text x="1801" y="1184">0.3</text>
 <text x="1757" y="1222">50</text><text x="1801" y="1222">0.2</text>
 <text x="1757" y="1260">25</text><text x="1801" y="1260">0.1</text>
</g>
<g class="axm">
 <text transform="translate(1773,1083) rotate(-90)" font-size="13">(Pa)</text>
 <text transform="translate(1818,1085) rotate(-90)" font-size="13">(in H₂O)</text>
 <text x="1836" y="1328">0</text><text x="1881" y="1328">10</text><text x="1921" y="1328">20</text><text x="1961" y="1328">30</text>
 <text x="2000" y="1328">40</text><text x="2037" y="1328">50</text><text x="2076" y="1328">60</text><text x="2114" y="1328">70</text><text x="2171" y="1328">(CFM)</text>
 <text x="1887" y="1364">20</text><text x="1933" y="1364">40</text><text x="1978" y="1364">60</text><text x="2025" y="1364">80</text>
 <text x="2078" y="1364">100</text><text x="2122" y="1364">120</text><text x="2183" y="1364">(m³/h)</text>
 <text x="1975" y="1431" font-size="23" fill="#222">DPT(G)10A</text>
</g>

<!-- chart 2 -->
<g stroke="#2a2a2a" fill="none">
 <path d="M2328,1139V1291M2375,1139V1291M2422,1139V1291M2469,1139V1291M2516,1139V1291M2563,1139V1291M2610,1139V1291" stroke-width="1.2"/>
 <path d="M2328,1139H2610M2328,1177H2610M2328,1215H2610M2328,1253H2610M2328,1291H2610" stroke-width="2.5"/>
 <path d="M2367,1291V1303M2407,1291V1303M2447,1291V1303M2487,1291V1303M2527,1291V1303M2566,1291V1303M2606,1291V1303" stroke-width="1.5"/>
 <path d="M2328,1207 C2370,1209 2420,1216 2453,1230 S2505,1260 2525,1291" stroke="#6aa3ad" stroke-width="1.8"/>
</g>
<g class="ax">
 <text x="2243" y="1145">200</text><text x="2288" y="1145">0.8</text>
 <text x="2243" y="1183">150</text><text x="2288" y="1183">0.6</text>
 <text x="2243" y="1221">100</text><text x="2288" y="1221">0.4</text>
 <text x="2243" y="1259">50</text><text x="2288" y="1259">0.12</text>
</g>
<g class="axm">
 <text transform="translate(2261,1083) rotate(-90)" font-size="13">(Pa)</text>
 <text transform="translate(2305,1085) rotate(-90)" font-size="13">(in H₂O)</text>
 <text x="2324" y="1328">0</text><text x="2367" y="1328">30</text><text x="2407" y="1328">60</text><text x="2447" y="1328">90</text>
 <text x="2490" y="1328">120</text><text x="2527" y="1328">150</text><text x="2567" y="1328">180</text><text x="2606" y="1328">210</text><text x="2658" y="1328">(CFM)</text>
 <text x="2374" y="1364">60</text><text x="2425" y="1364">120</text><text x="2470" y="1364">180</text><text x="2516" y="1364">240</text>
 <text x="2564" y="1364">300</text><text x="2608" y="1364">360</text><text x="2670" y="1364">(m³/h)</text>
 <text x="2475" y="1431" font-size="23" fill="#222">DPT(G)15A</text>
</g>

<!-- chart 3 -->
<g stroke="#2a2a2a" fill="none">
 <path d="M2820,1138V1290M2867,1138V1290M2914,1138V1290M2961,1138V1290M3008,1138V1290M3055,1138V1290M3102,1138V1290" stroke-width="1.2"/>
 <path d="M2820,1138H3102M2820,1176H3102M2820,1214H3102M2820,1252H3102M2820,1290H3102" stroke-width="2.5"/>
 <path d="M2860,1290V1302M2900,1290V1302M2940,1290V1302M2980,1290V1302M3020,1290V1302M3059,1290V1302M3100,1290V1302" stroke-width="1.5"/>
 <path d="M2820,1202 C2860,1206 2900,1214 2925,1223 S3020,1262 3075,1289" stroke="#4d8c99" stroke-width="1.8"/>
</g>
<g class="ax">
 <text x="2736" y="1144">200</text><text x="2781" y="1144">0.8</text>
 <text x="2736" y="1182">150</text><text x="2781" y="1182">0.6</text>
 <text x="2736" y="1220">100</text><text x="2781" y="1220">0.4</text>
 <text x="2736" y="1258">50</text><text x="2781" y="1258">0.12</text>
</g>
<g class="axm">
 <text transform="translate(2754,1083) rotate(-90)" font-size="13">(Pa)</text>
 <text transform="translate(2798,1085) rotate(-90)" font-size="13">(in H₂O)</text>
 <text x="2816" y="1327">0</text><text x="2860" y="1327">30</text><text x="2900" y="1327">60</text><text x="2940" y="1327">90</text>
 <text x="2985" y="1327">120</text><text x="3020" y="1327">150</text><text x="3061" y="1327">180</text><text x="3100" y="1327">210</text><text x="3151" y="1327">(CFM)</text>
 <text x="2867" y="1363">60</text><text x="2917" y="1363">120</text><text x="2963" y="1363">180</text><text x="3010" y="1363">240</text>
 <text x="3057" y="1363">300</text><text x="3102" y="1363">360</text><text x="3165" y="1363">(m³/h)</text>
 <text x="3013" y="1431" font-size="23" fill="#222">DPT(G)15B</text>
</g>

<!-- Performance parameter table -->
<text x="1767" y="1528" font-size="24" class="bl" textLength="123" lengthAdjust="spacingAndGlyphs">性能参数表</text>
<text x="1899" y="1527" font-size="19" fill="#222" textLength="231" lengthAdjust="spacingAndGlyphs">Performance parameter</text>
<rect x="1767" y="1552" width="1428" height="84" fill="#0a69b2"/>
<g stroke="#222" fill="none">
 <line x1="1767" y1="1551" x2="3195" y2="1551" stroke="#777" stroke-width="2"/>
 <path d="M1767,1636H3195M1767,1756H3195M1767,1876H3195M1767,1995H3195M1767,2115H3195" stroke-width="3"/>
 <path d="M1932,1677H2634M1932,1716H2634M1932,1796H2634M1932,1836H2634M1932,1915H2634M1932,1955H2634M1932,2036H2634M1932,2076H2634" stroke-width="2.5"/>
 <path d="M1932,1552V2115M2081,1552V2115M2220,1552V2115M2358,1552V2115M2496,1552V2115M2634,1552V2115M2772,1552V2115M2910,1552V2115M3053,1552V2115" stroke-width="1.5"/>
</g>
<g>
 <text x="1850" y="1591" class="ph">型号</text><text x="1850" y="1614" class="ph">(Model)</text>
 <text x="2007" y="1591" class="ph">档位</text><text x="2007" y="1614" class="ph">(Gears)</text>
 <text x="2151" y="1591" class="ph">风量</text><text x="2151" y="1614" class="ph">(m³/h)</text>
 <text x="2289" y="1591" class="ph">功率</text><text x="2289" y="1614" class="ph">(W)</text>
 <text x="2427" y="1591" class="ph">静压</text><text x="2427" y="1614" class="ph">(Pa)</text>
 <text x="2565" y="1591" class="ph">噪音</text><text x="2565" y="1614" class="ph">[dB]</text>
 <text x="2703" y="1591" class="ph">额定电压</text><text x="2703" y="1614" class="ph">(V)</text>
 <text x="2841" y="1591" class="ph">额定频率</text><text x="2841" y="1614" class="ph">(HZ)</text>
 <text x="2982" y="1591" class="ph">接管直径</text><text x="2982" y="1614" class="ph">(mm)</text>
 <text x="3124" y="1591" class="ph">重量</text><text x="3124" y="1614" class="ph">(kg)</text>
</g>
<g>
 <text x="1850" y="1703" class="pd">DPT(G)10A</text>
 <text x="2007" y="1664" class="pd">高</text><text x="2151" y="1664" class="pd">120</text><text x="2289" y="1664" class="pd">25</text><text x="2427" y="1664" class="pd">95</text><text x="2565" y="1664" class="pd">22</text>
 <text x="2007" y="1703" class="pd">中</text><text x="2151" y="1703" class="pd">105</text><text x="2289" y="1703" class="pd">21</text><text x="2427" y="1703" class="pd">80</text><text x="2565" y="1703" class="pd">21</text>
 <text x="2007" y="1743" class="pd">低</text><text x="2151" y="1743" class="pd">90</text><text x="2289" y="1743" class="pd">17</text><text x="2427" y="1743" class="pd">70</text><text x="2565" y="1743" class="pd">19</text>
 <text x="2703" y="1703" class="pd">220</text><text x="2841" y="1703" class="pd">50</text><text x="2982" y="1703" class="pd">Φ100</text><text x="3124" y="1703" class="pd">7</text>

 <text x="1850" y="1823" class="pd">DPT(G)15A</text>
 <text x="2007" y="1783" class="pd">高</text><text x="2151" y="1783" class="pd">250</text><text x="2289" y="1783" class="pd">34</text><text x="2427" y="1783" class="pd">105</text><text x="2565" y="1783" class="pd">24</text>
 <text x="2007" y="1823" class="pd">中</text><text x="2151" y="1823" class="pd">215</text><text x="2289" y="1823" class="pd">31</text><text x="2427" y="1823" class="pd">100</text><text x="2565" y="1823" class="pd">23</text>
 <text x="2007" y="1863" class="pd">低</text><text x="2151" y="1863" class="pd">175</text><text x="2289" y="1863" class="pd">28</text><text x="2427" y="1863" class="pd">90</text><text x="2565" y="1863" class="pd">21</text>
 <text x="2703" y="1823" class="pd">220</text><text x="2841" y="1823" class="pd">50</text><text x="2982" y="1823" class="pd">Φ150</text><text x="3124" y="1823" class="pd">9.5</text>

 <text x="1850" y="1942" class="pd">DPT(G)15B</text>
 <text x="2007" y="1902" class="pd">高</text><text x="2151" y="1902" class="pd">330</text><text x="2289" y="1902" class="pd">47</text><text x="2427" y="1902" class="pd">118</text><text x="2565" y="1902" class="pd">26</text>
 <text x="2007" y="1942" class="pd">中</text><text x="2151" y="1942" class="pd">290</text><text x="2289" y="1942" class="pd">37</text><text x="2427" y="1942" class="pd">110</text><text x="2565" y="1942" class="pd">24</text>
 <text x="2007" y="1982" class="pd">低</text><text x="2151" y="1982" class="pd">225</text><text x="2289" y="1982" class="pd">29</text><text x="2427" y="1982" class="pd">100</text><text x="2565" y="1982" class="pd">23</text>
 <text x="2703" y="1942" class="pd">220</text><text x="2841" y="1942" class="pd">50</text><text x="2982" y="1942" class="pd">Φ150</text><text x="3124" y="1942" class="pd">10.5</text>

 <text x="1850" y="2063" class="pd">DPT(G)20A</text>
 <text x="2007" y="2022" class="pd">高</text><text x="2151" y="2022" class="pd">550</text><text x="2289" y="2022" class="pd">78</text><text x="2427" y="2022" class="pd">180</text><text x="2565" y="2022" class="pd">28</text>
 <text x="2007" y="2063" class="pd">中</text><text x="2151" y="2063" class="pd">480</text><text x="2289" y="2063" class="pd">72</text><text x="2427" y="2063" class="pd">150</text><text x="2565" y="2063" class="pd">26</text>
 <text x="2007" y="2102" class="pd">低</text><text x="2151" y="2102" class="pd">400</text><text x="2289" y="2102" class="pd">67</text><text x="2427" y="2102" class="pd">130</text><text x="2565" y="2102" class="pd">25</text>
 <text x="2703" y="2063" class="pd">220</text><text x="2841" y="2063" class="pd">50</text><text x="2982" y="2063" class="pd">Φ200</text><text x="3124" y="2063" class="pd">18</text>
</g>
</svg>
</body></html>
